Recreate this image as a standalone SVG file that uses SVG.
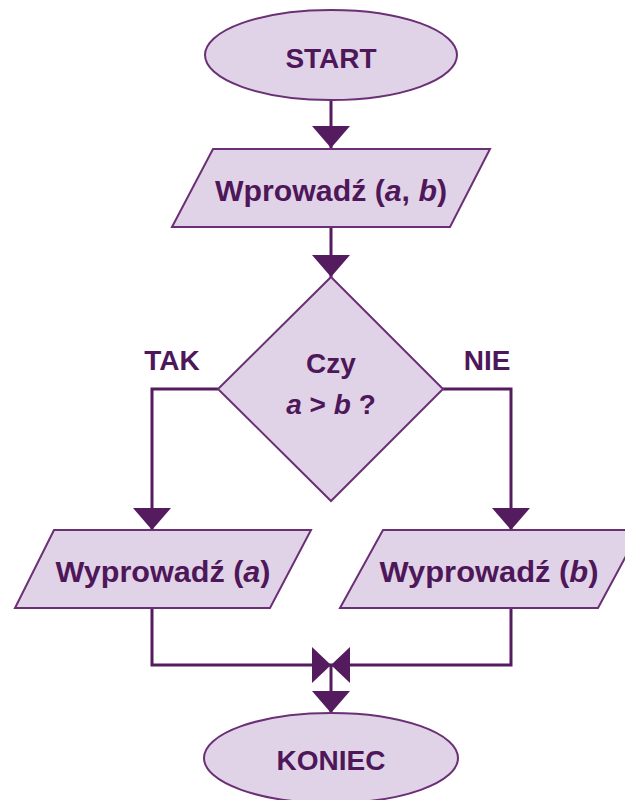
<svg xmlns="http://www.w3.org/2000/svg" width="625" height="800" viewBox="0 0 625 800">
  <style>
    .shape { fill: #e1d3e7; stroke: #6a2f75; stroke-width: 2; }
    .label { font-family: "Liberation Sans", Arial, sans-serif; font-weight: bold; fill: #4e1759; text-anchor: middle; }
    .big { font-size: 30px; }
    .mid { font-size: 28px; }
    .it { font-style: italic; }
    .wire { fill: none; stroke: #551b5f; stroke-width: 3; }
  </style>
  <defs>
    <marker id="arrow" viewBox="0 0 22 38" refX="22" refY="19" markerWidth="22" markerHeight="38" markerUnits="userSpaceOnUse" orient="auto">
      <path d="M0,0 L22,19 L0,38 Z" fill="#551b5f"/>
    </marker>
    <marker id="join" viewBox="0 0 19 36" refX="19" refY="18" markerWidth="19" markerHeight="36" markerUnits="userSpaceOnUse" orient="auto">
      <path d="M0,0 L19,18 L0,36 Z" fill="#551b5f"/>
    </marker>
  </defs>

  <!-- connectors -->
  <g id="connectors">
    <path class="wire" d="M331,100 V148" marker-end="url(#arrow)"/>
    <path class="wire" d="M331,227 V277" marker-end="url(#arrow)"/>
    <path class="wire" d="M218,389 H152 V530" marker-end="url(#arrow)"/>
    <path class="wire" d="M443,389 H511 V530" marker-end="url(#arrow)"/>
    <path class="wire" d="M152,608 V665 H331" marker-end="url(#join)"/>
    <path class="wire" d="M511,608 V665 H331" marker-end="url(#join)"/>
    <path class="wire" d="M331,665 V713" marker-end="url(#arrow)"/>
  </g>

  <g id="start">
    <ellipse class="shape" cx="331" cy="55" rx="126" ry="45"/>
    <text class="label mid" x="331" y="68">START</text>
  </g>

  <g id="input">
    <polygon class="shape" points="213,149 490,149 450,227 172,227"/>
    <text class="label big" x="331" y="201" textLength="232" lengthAdjust="spacingAndGlyphs">Wprowadź (<tspan class="it">a</tspan>, <tspan class="it">b</tspan>)</text>
  </g>

  <g id="decision">
    <polygon class="shape" points="331,277 443,389 331,501 218,389"/>
    <text class="label mid" x="331" y="373">Czy</text>
    <text class="label mid" x="331" y="414"><tspan class="it">a</tspan> &gt; <tspan class="it">b</tspan> ?</text>
  </g>

  <g id="label-tak">
    <text class="label mid" x="172" y="370">TAK</text>
  </g>
  <g id="label-nie">
    <text class="label mid" x="487" y="370">NIE</text>
  </g>

  <g id="output-a">
    <polygon class="shape" points="54,530 311,530 270,608 15,608"/>
    <text class="label big" x="163" y="582" textLength="215" lengthAdjust="spacingAndGlyphs">Wyprowadź (<tspan class="it">a</tspan>)</text>
  </g>

  <g id="output-b">
    <polygon class="shape" points="383,530 640,530 598,608 340,608"/>
    <text class="label big" x="489" y="582" textLength="219" lengthAdjust="spacingAndGlyphs">Wyprowadź (<tspan class="it">b</tspan>)</text>
  </g>

  <g id="end">
    <ellipse class="shape" cx="331" cy="758" rx="127" ry="45"/>
    <text class="label mid" x="331" y="770">KONIEC</text>
  </g>
</svg>
